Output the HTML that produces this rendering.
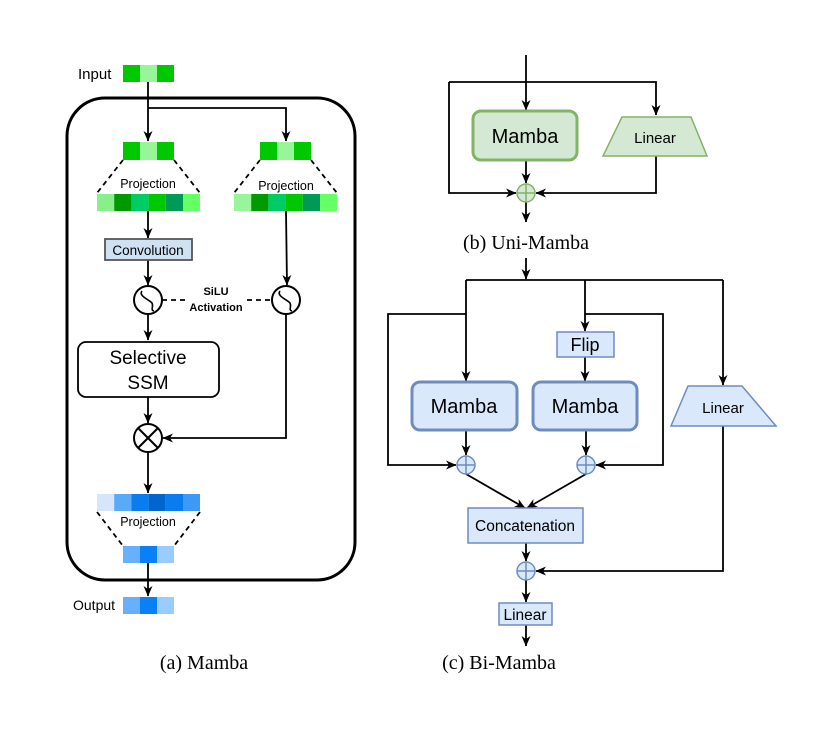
<!DOCTYPE html>
<html><head><meta charset="utf-8"><style>
html,body{margin:0;padding:0;background:#fff;}
svg{display:block;}
text{font-family:"Liberation Sans",sans-serif;}
.serif{font-family:"Liberation Serif",serif;}
</style></head><body>
<svg width="831" height="738" viewBox="0 0 831 738" xmlns="http://www.w3.org/2000/svg">
<defs>
<marker id="ar" markerWidth="12" markerHeight="12" refX="10" refY="6" orient="auto" markerUnits="userSpaceOnUse">
<path d="M0,1.5 L10.5,6 L0,10.5 L3,6 Z" fill="#000"/>
</marker>
</defs>
<g stroke="#000" stroke-width="1.8" fill="none">
<!-- (a) -->
<rect x="67" y="98" width="288" height="482" rx="38" stroke-width="3"/>
<line x1="148" y1="82" x2="148" y2="141" marker-end="url(#ar)"/>
<polyline points="148,108 286,108 286,141" marker-end="url(#ar)"/>
<line x1="123" y1="160" x2="97" y2="193" stroke-dasharray="5,4"/>
<line x1="174" y1="160" x2="200" y2="193" stroke-dasharray="5,4"/>
<line x1="260" y1="160" x2="234" y2="193" stroke-dasharray="5,4"/>
<line x1="311" y1="160" x2="337" y2="193" stroke-dasharray="5,4"/>
<line x1="148" y1="211" x2="148" y2="238" marker-end="url(#ar)"/>
<line x1="148" y1="260" x2="148" y2="285" marker-end="url(#ar)"/>
<line x1="286" y1="211" x2="287" y2="285" marker-end="url(#ar)"/>
<line x1="162" y1="300" x2="188" y2="300" stroke-dasharray="5,4"/>
<line x1="247" y1="300" x2="272" y2="300" stroke-dasharray="5,4"/>
<line x1="148" y1="314" x2="148" y2="340" marker-end="url(#ar)"/>
<line x1="148" y1="397" x2="148" y2="423" marker-end="url(#ar)"/>
<polyline points="286,314 286,438 163,438" marker-end="url(#ar)"/>
<line x1="148" y1="452" x2="148" y2="493" marker-end="url(#ar)"/>
<line x1="97" y1="512" x2="123" y2="546" stroke-dasharray="5,4"/>
<line x1="200" y1="512" x2="174" y2="546" stroke-dasharray="5,4"/>
<line x1="148" y1="563" x2="148" y2="596" marker-end="url(#ar)"/>
<circle cx="148" cy="300" r="14" stroke-width="2"/>
<circle cx="286" cy="300" r="14" stroke-width="2"/>
<path d="M142,291 C138,296 150,300 152,303 C154,307 150,310 154,311" stroke-width="1.6"/>
<path d="M280,291 C276,296 288,300 290,303 C292,307 288,310 292,311" stroke-width="1.6"/>
<circle cx="148" cy="438" r="14" stroke-width="2"/>
<line x1="138" y1="428" x2="158" y2="448" stroke-width="2"/>
<line x1="158" y1="428" x2="138" y2="448" stroke-width="2"/>
<rect x="78" y="342" width="141" height="55" rx="8"/>
<rect x="105" y="239" width="87" height="21" fill="#cfe2f3" stroke="#555"/>
</g>
<g stroke="none">
<rect x="123" y="65" width="17" height="17" fill="#00c800"/><rect x="140" y="65" width="17" height="17" fill="#99f599"/><rect x="157" y="65" width="17" height="17" fill="#00c800"/>
<rect x="123" y="142" width="17" height="18" fill="#00c800"/><rect x="140" y="142" width="17" height="18" fill="#99f599"/><rect x="157" y="142" width="17" height="18" fill="#00c800"/>
<rect x="260" y="142" width="17" height="18" fill="#00c800"/><rect x="277" y="142" width="17" height="18" fill="#99f599"/><rect x="294" y="142" width="17" height="18" fill="#00c800"/>
<rect x="97" y="194" width="17.2" height="17" fill="#88f088"/><rect x="114.2" y="194" width="17.2" height="17" fill="#009900"/><rect x="131.4" y="194" width="17.2" height="17" fill="#00cc66"/><rect x="148.6" y="194" width="17.2" height="17" fill="#00c800"/><rect x="165.8" y="194" width="17.2" height="17" fill="#009955"/><rect x="183" y="194" width="17" height="17" fill="#66ff66"/>
<rect x="234" y="194" width="17.2" height="17" fill="#99f599"/><rect x="251.2" y="194" width="17.2" height="17" fill="#009900"/><rect x="268.4" y="194" width="17.2" height="17" fill="#00cc66"/><rect x="285.6" y="194" width="17.2" height="17" fill="#00c800"/><rect x="302.8" y="194" width="17.2" height="17" fill="#009955"/><rect x="320" y="194" width="17" height="17" fill="#66ff66"/>
<rect x="97" y="494" width="17.2" height="17" fill="#d6e6fa"/><rect x="114.2" y="494" width="17.2" height="17" fill="#5aaaf7"/><rect x="131.4" y="494" width="17.2" height="17" fill="#0a7cf0"/><rect x="148.6" y="494" width="17.2" height="17" fill="#0066cc"/><rect x="165.8" y="494" width="17.2" height="17" fill="#0a7cf0"/><rect x="183" y="494" width="17" height="17" fill="#3d99f5"/>
<rect x="123" y="546" width="17" height="17" fill="#66b0ff"/><rect x="140" y="546" width="17" height="17" fill="#0a80f8"/><rect x="157" y="546" width="17" height="17" fill="#99ccff"/>
<rect x="123" y="597" width="17" height="17" fill="#66b0ff"/><rect x="140" y="597" width="17" height="17" fill="#0a80f8"/><rect x="157" y="597" width="17" height="17" fill="#99ccff"/>
</g>
<g fill="#000">
<text x="78" y="79" font-size="15">Input</text>
<text x="148" y="188" font-size="12.5" text-anchor="middle">Projection</text>
<text x="286" y="190" font-size="12.5" text-anchor="middle">Projection</text>
<text x="148" y="255" font-size="13.5" text-anchor="middle">Convolution</text>
<text x="216" y="295" font-size="11" font-weight="bold" text-anchor="middle">SiLU</text>
<text x="216" y="311" font-size="11" font-weight="bold" text-anchor="middle">Activation</text>
<text x="148" y="364" font-size="19" text-anchor="middle">Selective</text>
<text x="148" y="389" font-size="19" text-anchor="middle">SSM</text>
<text x="148" y="526" font-size="12.5" text-anchor="middle">Projection</text>
<text x="73" y="610" font-size="14">Output</text>
<text class="serif" x="204" y="669" font-size="20" text-anchor="middle">(a) Mamba</text>
<text class="serif" x="526" y="249" font-size="20" text-anchor="middle">(b) Uni-Mamba</text>
<text class="serif" x="499" y="669" font-size="20" text-anchor="middle">(c) Bi-Mamba</text>
</g>
<!-- (b) -->
<g stroke="#000" stroke-width="1.8" fill="none">
<line x1="526" y1="55" x2="526" y2="110" marker-end="url(#ar)"/>
<polyline points="449,82 656,82 656,115" marker-end="url(#ar)"/>
<polyline points="449,82 449,193 516,193" marker-end="url(#ar)"/>
<polyline points="656,156 656,193 536,193" marker-end="url(#ar)"/>
<line x1="526" y1="160" x2="526" y2="183" marker-end="url(#ar)"/>
<line x1="526" y1="202" x2="526" y2="222" marker-end="url(#ar)"/>
</g>
<rect x="473" y="111" width="104" height="49" rx="8" fill="#d5e8d4" stroke="#82b366" stroke-width="3"/>
<polygon points="622,117 691,117 707,156 603,156" fill="#d5e8d4" stroke="#82b366" stroke-width="1.5"/>
<circle cx="526" cy="193" r="9" fill="#d5e8d4" stroke="#82b366" stroke-width="1.5"/>
<path d="M517,193 H535 M526,184 V202" stroke="#82b366" stroke-width="1.5"/>
<text x="525" y="143" font-size="20" text-anchor="middle">Mamba</text>
<text x="655" y="143" font-size="15" text-anchor="middle">Linear</text>
<!-- (c) -->
<g stroke="#000" stroke-width="1.8" fill="none">
<line x1="526" y1="258" x2="526" y2="279" marker-end="url(#ar)"/>
<polyline points="466,280 466,381" marker-end="url(#ar)"/>
<line x1="466" y1="280" x2="723" y2="280"/>
<line x1="585" y1="280" x2="585" y2="331" marker-end="url(#ar)"/>
<line x1="723" y1="280" x2="723" y2="385" marker-end="url(#ar)"/>
<polyline points="466,314 388,314 388,465 456,465" marker-end="url(#ar)"/>
<polyline points="585,314 663,314 663,465 596,465" marker-end="url(#ar)"/>
<line x1="585" y1="357" x2="585" y2="381" marker-end="url(#ar)"/>
<line x1="466" y1="430" x2="466" y2="455" marker-end="url(#ar)"/>
<line x1="586" y1="430" x2="586" y2="455" marker-end="url(#ar)"/>
<line x1="466" y1="474" x2="525" y2="508" marker-end="url(#ar)"/>
<line x1="586" y1="474" x2="527" y2="508" marker-end="url(#ar)"/>
<line x1="526" y1="543" x2="526" y2="561" marker-end="url(#ar)"/>
<polyline points="723,426 723,571 536,571" marker-end="url(#ar)"/>
<line x1="526" y1="580" x2="526" y2="602" marker-end="url(#ar)"/>
<line x1="526" y1="625" x2="526" y2="646" marker-end="url(#ar)"/>
</g>
<rect x="557" y="332" width="57" height="25" fill="#dae8fc" stroke="#6c8ebf" stroke-width="1.5"/>
<rect x="412" y="382" width="105" height="48" rx="8" fill="#dae8fc" stroke="#6c8ebf" stroke-width="3"/>
<rect x="533" y="382" width="104" height="48" rx="8" fill="#dae8fc" stroke="#6c8ebf" stroke-width="3"/>
<polygon points="688,386 742,386 776,426 671,426" fill="#dae8fc" stroke="#6c8ebf" stroke-width="1.5"/>
<rect x="468" y="508" width="115" height="35" fill="#dae8fc" stroke="#6c8ebf" stroke-width="1.5"/>
<rect x="499" y="603" width="53" height="22" fill="#dae8fc" stroke="#6c8ebf" stroke-width="1.5"/>
<g fill="#dae8fc" stroke="#6c8ebf" stroke-width="1.5">
<circle cx="466" cy="465" r="9"/><circle cx="586" cy="465" r="9"/><circle cx="526" cy="571" r="9"/>
</g>
<path d="M457,465 H475 M466,456 V474 M577,465 H595 M586,456 V474 M517,571 H535 M526,562 V580" stroke="#6c8ebf" stroke-width="1.5"/>
<text x="585" y="351" font-size="18" text-anchor="middle">Flip</text>
<text x="464" y="413" font-size="20" text-anchor="middle">Mamba</text>
<text x="585" y="413" font-size="20" text-anchor="middle">Mamba</text>
<text x="723" y="413" font-size="15" text-anchor="middle">Linear</text>
<text x="525" y="531" font-size="15.5" text-anchor="middle">Concatenation</text>
<text x="525" y="620" font-size="15.5" text-anchor="middle">Linear</text>
</svg>
</body></html>
